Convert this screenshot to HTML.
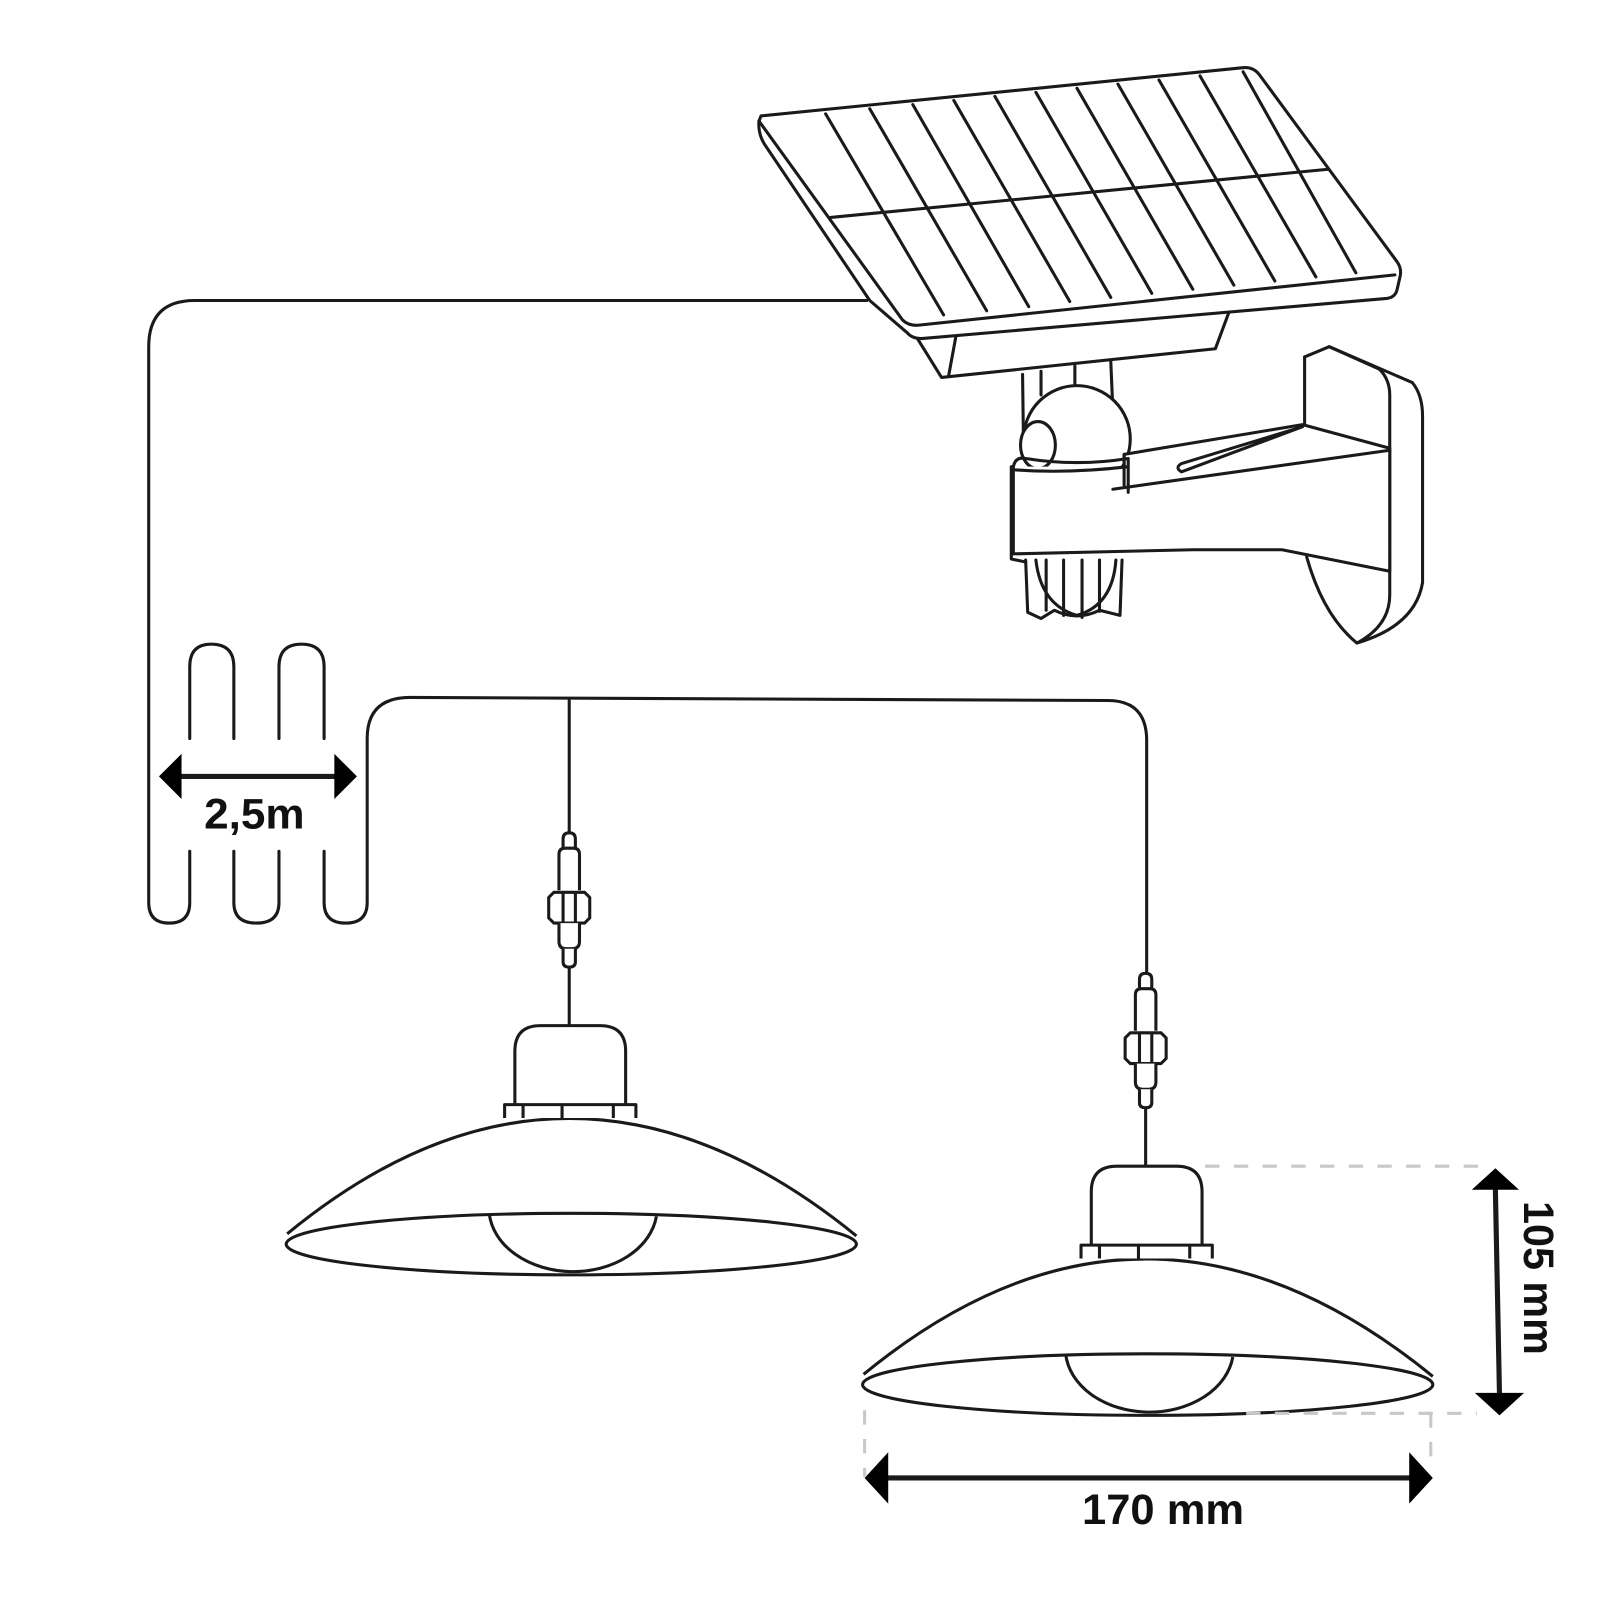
<!DOCTYPE html>
<html><head><style>html,body{margin:0;padding:0;background:#fff;}svg{display:block}</style></head>
<body>
<svg width="1600" height="1600" viewBox="0 0 1560 1560" xmlns="http://www.w3.org/2000/svg">
<defs>
<g id="lamp" fill="#fff" stroke="#1a1a1a" stroke-width="3" stroke-linejoin="round">
  <path d="M549,828 V818 Q549,812 555,812 Q561,812 561,818 V828"/>
  <path d="M545,868 V833 Q545,827 551,827 H559 Q565,827 565,833 V868"/>
  <path d="M540,870 h30 l5,5 v20 l-5,5 h-30 l-5,-5 v-20 z"/>
  <path d="M549,870 V900 M561,870 V900"/>
  <path d="M545,900 V918 Q545,925 552,925 H558 Q565,925 565,918 V900"/>
  <path d="M549,925 V938 Q549,943 555,943 Q561,943 561,938 V925"/>
  <line x1="555" y1="943" x2="555" y2="1000"/>
  <path d="M280,1203 Q555,977 835,1205"/>
  <path d="M502,1077 V1025 Q502,1000 527,1000 H585 Q610,1000 610,1025 V1077"/>
  <path d="M492,1090 V1077 H620 V1090 M510,1077 V1090 M548,1077 V1090 M598,1077 V1090"/>
  <ellipse cx="557" cy="1213" rx="278" ry="30"/>
  <path d="M477,1183 A82 62 0 0 0 640,1186" fill="none"/>
</g>
</defs>
<g fill="none" stroke="#1a1a1a" stroke-width="3" stroke-linejoin="round" stroke-linecap="round">
  <path d="M845,293 H190 Q145,293 145,338 V880 Q145,900 165,900 Q185,900 185,880 V830"/>
  <path d="M185,720 V650 Q185,628 206,628 Q228,628 228,650 V720"/>
  <path d="M228,830 V880 Q228,900 250,900 Q272,900 272,880 V830"/>
  <path d="M272,720 V650 Q272,628 294,628 Q316,628 316,650 V720"/>
  <path d="M316,830 V880 Q316,900 337,900 Q358,900 358,880 V720 Q358,680 400,680 L1080,683 Q1118,683 1118,722 V950"/>
  <line x1="555" y1="683" x2="555" y2="812"/>
  <path d="M742,113 L1212,66 Q1222,65 1228,73 L1362,255 Q1367,262 1365,270 L1362,283 Q1360,290 1352,291 L900,330 Q890,331 884,324 L848,293 L745,140 Q739,130 740,118 Z" fill="#fff"/>
  <path d="M740,118 L880,312 Q886,318 896,317 L1360,268"/>
  <path d="M810,212 L1295,165"/>
  <path d="M805,111 L920,307 M848,106 L962,303 M890,102 L1003,299 M930,98 L1043,294 M970,94 L1083,290 M1010,90 L1123,286 M1050,86 L1163,282 M1090,82 L1203,278 M1130,78 L1243,274 M1170,74 L1283,270 M1212,70 L1322,266"/>
  <path d="M895,331 L918,368 L1185,340 L1198,305"/>
  <path d="M932,328 L925,366"/>
  <path d="M997,365 L998,440 M1015,362 L1015,385 M1048,357 L1048,378 M1083,352 L1087,445"/>
  <circle cx="1050" cy="428" r="52" fill="#fff"/>
  <ellipse cx="1012" cy="434" rx="17" ry="23" fill="#fff"/>
  <path d="M1000,546 L1002,597 L1015,603 L1028,595 Q1050,606 1072,595 L1092,600 L1094,546" fill="#fff"/>
  <path d="M1020,546 V595 M1037,546 V600 M1055,546 V602 M1072,546 V596 M1010,546 Q1015,590 1050,600 Q1085,590 1088,546"/>
  <path d="M1272,348 L1296,338 L1377,373 Q1387,385 1387,406 V568 Q1380,610 1323,627 Q1290,600 1274,543" fill="#fff"/>
  <path d="M1272,348 V418 M1355,437 V557 M1296,338 L1345,360 Q1355,370 1355,385 V437 M1355,557 V580 Q1355,610 1323,627"/>
  <path d="M988,455 V540 L1163,536 L1250,536 L1355,557 V437 L1270,414 L1096,443 V455" fill="#fff"/>
  <path d="M1085,477 L1355,439 M1096,443 V473 M1152,452 L1270,416 L1152,460 Q1145,456 1152,452"/>
  <path d="M988,455 Q990,445 1000,447 Q1050,455 1100,447 L1100,480 M988,458 Q1040,462 1100,455"/>
  <path d="M986,455 V545 L1000,548"/>
  <line x1="170" y1="757" x2="333" y2="757" stroke-width="5"/>
  <line x1="1458" y1="1160" x2="1462" y2="1360" stroke-width="5"/>
  <line x1="862" y1="1441" x2="1378" y2="1441" stroke-width="5"/>
</g>
<g fill="#000">
  <path d="M155,757 L177,735 L177,779 Z"/>
  <path d="M348,757 L326,735 L326,779 Z"/>
  <path d="M1458,1139 L1435,1160 L1481,1160 Z"/>
  <path d="M1462,1380 L1438,1358 L1486,1358 Z"/>
  <path d="M843,1441 L866,1416 L866,1466 Z"/>
  <path d="M1397,1441 L1374,1416 L1374,1466 Z"/>
</g>
<use href="#lamp"/>
<use href="#lamp" transform="translate(562,137)"/>
<g stroke="#c8c8c8" stroke-width="3" stroke-dasharray="14,14" fill="none">
  <line x1="1175" y1="1137" x2="1450" y2="1137"/>
  <line x1="1215" y1="1378" x2="1440" y2="1378"/>
  <line x1="843" y1="1375" x2="843" y2="1440"/>
  <line x1="1395" y1="1378" x2="1395" y2="1420"/>
</g>
<g font-family="Liberation Sans, sans-serif" font-weight="bold" fill="#111" font-size="42">
  <text x="248" y="808" text-anchor="middle" textLength="98" lengthAdjust="spacingAndGlyphs">2,5m</text>
  <text x="1134" y="1486" text-anchor="middle" textLength="158" lengthAdjust="spacingAndGlyphs">170 mm</text>
  <text transform="translate(1486,1246) rotate(90)" text-anchor="middle" textLength="150" lengthAdjust="spacingAndGlyphs">105 mm</text>
</g>
</svg>
</body></html>
